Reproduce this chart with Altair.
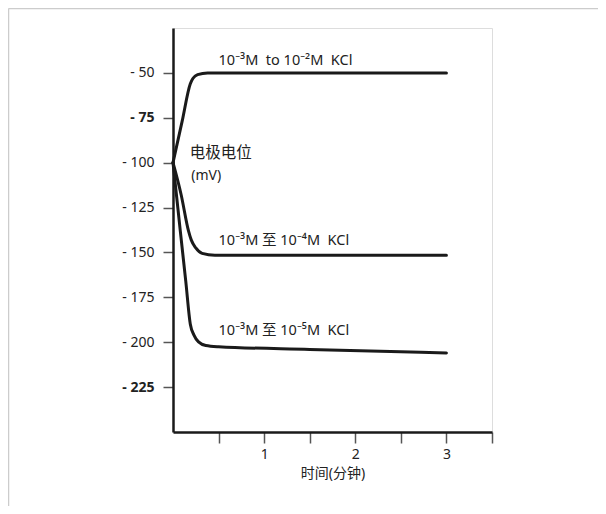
import altair as alt
import pandas as pd

# series: time (min) and electrode potential (mV)
t1 = [0, 0.1, 0.19, 0.22, 0.27, 0.38, 3.0]
v1 = [-100, -77, -56, -53, -51, -50, -50]
t2 = [0, 0.09, 0.17, 0.2, 0.25, 0.32, 0.46, 3.0]
v2 = [-100, -118, -138, -143, -147.5, -150.5, -151.5, -151.5]
t3 = [0, 0.04, 0.08, 0.14, 0.19, 0.23, 0.28, 0.36, 0.5, 1.5, 3.0]
v3 = [-100, -119, -138, -166, -190, -196, -199.8, -201.8, -202.5, -204, -206]
names = ["10⁻³M\u00a0 to 10⁻²M\u00a0 KCl", "10⁻³M 至 10⁻⁴M\u00a0 KCl", "10⁻³M 至 10⁻⁵M\u00a0 KCl"]

y_ticks = [-50, -75, -100, -125, -150, -175, -200, -225]
x_ticks = [0.5, 1, 1.5, 2, 2.5, 3, 3.5]

# annotation positions (data coords)
lab_x = [0.5, 0.5, 0.5]
lab_y = [-45.7, -145.7, -196.2]
ylab_text = ["电极电位", "(mV)"]
ylab_x = [0.185, 0.2]
ylab_y = [-97.5, -109.5]

rows = []
for name, ts, vs in zip(names, [t1, t2, t3], [v1, v2, v3]):
    for t, v in zip(ts, vs):
        rows.append({"series": name, "t": t, "v": v})
df = pd.DataFrame(rows)

FONT = "Noto Sans, Noto Sans CJK SC, sans-serif"

xscale = alt.Scale(domain=[0, 3.5], nice=False, zero=False)
yscale = alt.Scale(domain=[-250, -25], nice=False, zero=False)

lines = alt.Chart(df).mark_line(
    color="#1a1a1a", strokeWidth=3, interpolate="monotone", strokeCap="round"
).encode(
    x=alt.X("t:Q", scale=xscale, axis=alt.Axis(
        values=x_ticks, title="时间(分钟)",
        labelExpr="datum.value % 1 == 0 ? datum.value : ''",
        tickSize=11, tickWidth=1.5, tickColor="#555",
        domainColor="#1a1a1a", domainWidth=2.5,
        labelFontSize=14, labelColor="#222", labelPadding=4,
        titleFontSize=14, titleColor="#222", titleFontWeight="normal", titlePadding=5,
        grid=False, labelFont=FONT, titleFont=FONT,
    )),
    y=alt.Y("v:Q", scale=yscale, axis=alt.Axis(
        values=y_ticks, title=None,
        labelExpr="'- ' + abs(datum.value)",
        labelFontWeight={"condition": {"test": "datum.value == -75 || datum.value == -225", "value": "bold"}, "value": "normal"},
        tickSize=10, tickWidth=1.5, tickColor="#555",
        domainColor="#1a1a1a", domainWidth=2.5,
        labelFontSize=14, labelColor="#222", labelPadding=9,
        grid=False, labelFont=FONT,
    )),
    detail="series:N",
)

lab_df = pd.DataFrame({"text": names, "x": lab_x, "y": lab_y})
labels = alt.Chart(lab_df).mark_text(
    align="left", baseline="alphabetic", fontSize=14.5, color="#222", font=FONT
).encode(x=alt.X("x:Q", scale=xscale), y=alt.Y("y:Q", scale=yscale), text="text:N")

ylab_df = pd.DataFrame({"text": ylab_text, "x": ylab_x, "y": ylab_y, "size": [15.5, 14]})
ylabels = alt.Chart(ylab_df).mark_text(
    align="left", baseline="alphabetic", color="#222", font=FONT
).encode(x=alt.X("x:Q", scale=xscale), y=alt.Y("y:Q", scale=yscale), text="text:N",
         size=alt.Size("size:Q", scale=None, legend=None))

border_top = alt.Chart(pd.DataFrame({"a": [0]})).mark_rule(color="#cccccc", strokeWidth=1.5).encode(
    x=alt.value(-164.5), x2=alt.value(440), y=alt.value(-19.5)
)
border_left = alt.Chart(pd.DataFrame({"a": [0]})).mark_rule(color="#cccccc", strokeWidth=1.5).encode(
    x=alt.value(-164.5), y=alt.value(-19.5), y2=alt.value(500)
)

chart = alt.layer(border_top, border_left, lines, labels, ylabels).properties(
    width=319, height=404,
    autosize=alt.AutoSizeParams(type="none"),
    padding={"left": 165, "top": 20, "right": 106, "bottom": 74},
).configure_view(stroke=None).configure(background="white")

chart.save("out.html", embed_options={"renderer": "svg", "actions": False})
